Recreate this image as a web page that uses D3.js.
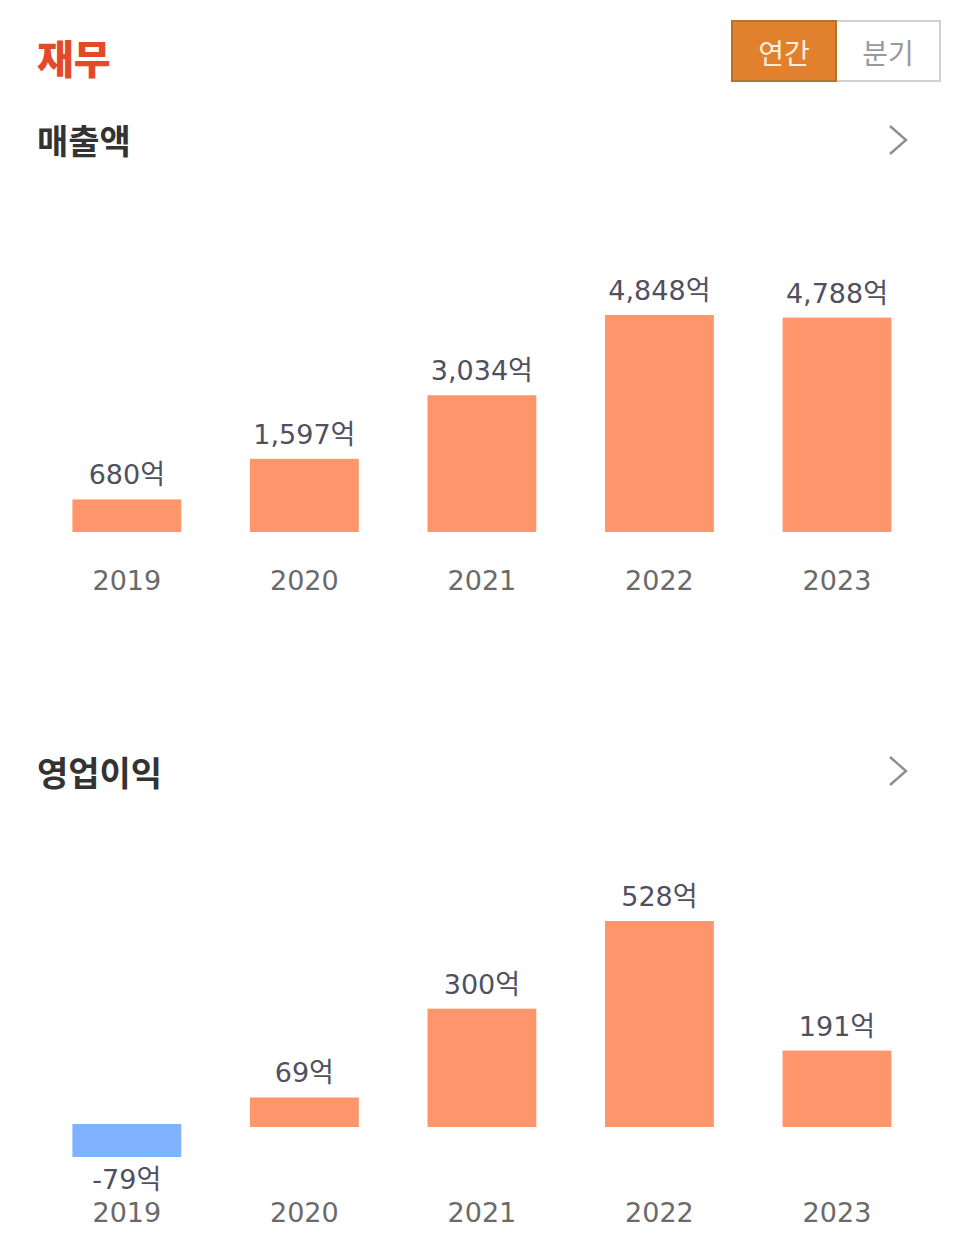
<!DOCTYPE html>
<html lang="ko">
<head>
<meta charset="utf-8">
<script src="https://cdn.jsdelivr.net/npm/d3@7"></script>
<style>
  html, body { margin: 0; background: #fff; }
  text { font-family: "DejaVu Sans", "Noto Sans CJK KR", sans-serif; }
  .kr { font-family: "Noto Sans CJK KR", sans-serif; }
  .domain { display: none; }
</style>
</head>
<body>
<svg id="chart" width="966" height="1236"></svg>
<script>
const years = ["2019", "2020", "2021", "2022", "2023"];
const revenue = [680, 1597, 3034, 4848, 4788];
const profit = [-79, 69, 300, 528, 191];
const revenueLabels = ["680억", "1,597억", "3,034억", "4,848억", "4,788억"];
const profitLabels = ["-79억", "69억", "300억", "528억", "191억"];
const periods = ["연간", "분기"];

const width = 966;
const height = 1236;
const posColor = "#ff956b";
const negColor = "#7fb2ff";

const svg = d3.select("#chart").attr("viewBox", `0 0 ${width} ${height}`);

const x = d3.scaleBand().domain(years).range([72.4, 891.4]).paddingInner(0.387).paddingOuter(0);

// one bar chart: base is where the positive bars stand, a little below y(0)
// because the original draws a small stub under every bar
const drawBars = (values, labels, y, base, axisY) => {
  const g = svg.append("g");

  g.selectAll("rect")
    .data(values)
    .join("rect")
    .attr("x", (d, i) => x(years[i]))
    .attr("width", x.bandwidth())
    .attr("y", (d) => (d >= 0 ? y(d) : y(0)))
    .attr("height", (d) => (d >= 0 ? base - y(d) : y(d) - y(0)))
    .attr("fill", (d) => (d >= 0 ? posColor : negColor));

  g.selectAll(".value")
    .data(values)
    .join("text")
    .attr("class", "value")
    .attr("x", (d, i) => x(years[i]) + x.bandwidth() / 2)
    .attr("y", (d) => (d >= 0 ? y(d) - 15 : y(d) + 32))
    .attr("text-anchor", "middle")
    .attr("font-size", 27)
    .attr("fill", "#50505f")
    .text((d, i) => labels[i]);

  const axis = g.append("g")
    .attr("transform", `translate(0,${axisY})`)
    .call(d3.axisBottom(x).tickSize(0).tickPadding(0));
  axis.selectAll("text")
    .attr("font-size", 27)
    .attr("font-family", "DejaVu Sans")
    .attr("fill", "#6a6a6a");
};

const yRevenue = d3.scaleLinear().domain([0, 4848]).range([529.5, 315]);
const yProfit = d3.scaleLinear().domain([-79, 0, 528]).range([1157, 1124, 921]);

drawBars(revenue, revenueLabels, yRevenue, 532, 571);
drawBars(profit, profitLabels, yProfit, 1127, 1203);

// headers
svg.append("text").attr("class", "kr")
  .attr("x", 37).attr("y", 74)
  .attr("font-size", 40).attr("font-weight", 900)
  .attr("fill", "#e4492b").text("재무");

const sections = [["매출액", 154, 140], ["영업이익", 786, 771]];
sections.forEach(([name, ty, cy]) => {
  svg.append("text").attr("class", "kr")
    .attr("x", 37).attr("y", ty)
    .attr("font-size", 34).attr("font-weight", 700)
    .attr("fill", "#333").text(name);
  svg.append("path")
    .attr("d", d3.line()([[890, cy - 14], [906, cy], [890, cy + 14]]))
    .attr("fill", "none").attr("stroke", "#8e8e8e").attr("stroke-width", 2.4);
});

// period toggle
const btn = d3.scaleBand().domain(periods).range([732, 940]);
svg.append("rect")
  .attr("x", btn("분기")).attr("y", 21)
  .attr("width", btn.bandwidth()).attr("height", 60)
  .attr("fill", "#fff").attr("stroke", "#d0d0d0").attr("stroke-width", 2);
svg.append("rect")
  .attr("x", btn("연간")).attr("y", 21)
  .attr("width", btn.bandwidth()).attr("height", 60)
  .attr("fill", "#e1812d").attr("stroke", "#b5732f").attr("stroke-width", 2);
svg.selectAll(".period")
  .data(periods)
  .join("text")
  .attr("class", "period kr")
  .attr("x", (d) => btn(d) + btn.bandwidth() / 2)
  .attr("y", 64)
  .attr("text-anchor", "middle")
  .attr("font-size", 28)
  .attr("font-weight", 400)
  .attr("fill", (d, i) => (i === 0 ? "#fdeedd" : "#999"))
  .text((d) => d);
</script>
</body>
</html>
